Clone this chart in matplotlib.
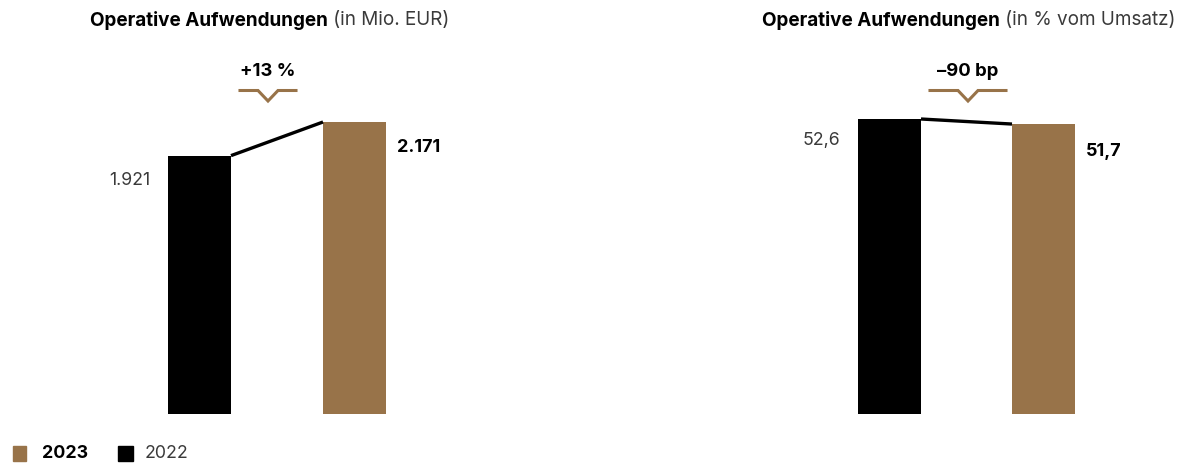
import numpy as np
import matplotlib
matplotlib.use("Agg")
import matplotlib.pyplot as plt

# ---------------- data ----------------
YEARS = ["2022", "2023"]
COST_MIO = [1921, 2171]
COST_PCT = [52.6, 51.7]
COST_MIO_LABELS = ["1.921", "2.171"]
COST_PCT_LABELS = ["52,6", "51,7"]
DELTA_LABELS = ["+13 %", "\u201390 bp"]
# --------------------------------------

BROWN = "#987349"
BLACK = "#000000"
TEXT_LIGHT = "#3a3a3a"

W, H = 1180, 463
DPI = 100
FONT = "Inter"

plt.rcParams["font.family"] = [FONT, "DejaVu Sans"]


def fx(px):
    return px / W


def fy(py):
    return 1 - py / H


def add_panel(fig, center0, center1, values, scale, labels, label_dy,
              chev_x, chev_w, delta):
    # axes covering full height, baseline at y=414 px from top
    step = center1 - center0
    left_px, right_px = center0 - 120, center1 + 120
    ax = fig.add_axes([fx(left_px), fy(414), (right_px - left_px) / W, 414 / H])
    ax.set_xlim((left_px - center0) / step, (right_px - center0) / step)
    ax.set_ylim(0, 414 / scale)
    ax.axis("off")

    bw = 63 / step
    x = np.arange(len(values))
    ax.bar(x, values, width=bw, color=[BLACK, BROWN], linewidth=0)

    # connector between bar tops
    ax.plot([x[0] + bw / 2, x[1] - bw / 2], [values[0], values[1]],
            color=BLACK, lw=2.4, solid_capstyle="butt", zorder=3)

    # value labels, offset in pixels from the bar top corners
    ax.annotate(labels[0], (x[0] - bw / 2, values[0]), xytext=(-18, -label_dy[0]),
                textcoords="offset pixels", ha="right", va="center",
                fontsize=12.8, color=TEXT_LIGHT)
    ax.annotate(labels[1], (x[1] + bw / 2, values[1]), xytext=(11, -label_dy[1]),
                textcoords="offset pixels", ha="left", va="center",
                fontsize=13, color=BLACK, fontweight="bold")

    # delta chevron
    cx = (chev_x - center0) / step
    hw = chev_w / 2 / step
    vw = 10 / step
    tr = matplotlib.transforms.blended_transform_factory(ax.transData, fig.transFigure)
    ax.plot([cx - hw, cx - vw, cx, cx + vw, cx + hw],
            [fy(90.5), fy(90.5), fy(101), fy(90.5), fy(90.5)],
            color=BROWN, lw=2.2, transform=tr, clip_on=False,
            solid_joinstyle="miter")
    ax.text(cx, fy(71), delta, transform=tr, ha="center", va="center",
            fontsize=13.3, fontweight="bold", color=BLACK)
    return ax


def two_part_title(fig, x_px, bold, light, align):
    r = fig.canvas.get_renderer()
    if align == "left":
        t1 = fig.text(fx(x_px), fy(20), bold, ha="left", va="center",
                      fontsize=13.6, fontweight="bold", color=BLACK)
        bb = t1.get_window_extent(r)
        fig.text(bb.x1 / W, fy(20), light, ha="left", va="center",
                 fontsize=13.6, color=TEXT_LIGHT)
    else:
        t2 = fig.text(fx(x_px), fy(20), light, ha="right", va="center",
                      fontsize=13.6, color=TEXT_LIGHT)
        bb = t2.get_window_extent(r)
        fig.text(bb.x0 / W, fy(20), bold, ha="right", va="center",
                 fontsize=13.6, fontweight="bold", color=BLACK)


fig = plt.figure(figsize=(W / DPI, H / DPI), dpi=DPI)
fig.patch.set_facecolor("white")

add_panel(fig, 199.5, 354.5, COST_MIO, 292 / 2171, COST_MIO_LABELS, (25, 25),
          268, 56, DELTA_LABELS[0])
add_panel(fig, 889.5, 1043.5, COST_PCT, 295 / 52.6, COST_PCT_LABELS, (22, 27),
          968, 76, DELTA_LABELS[1])

fig.canvas.draw()
two_part_title(fig, 90, "Operative Aufwendungen", " (in Mio. EUR)", "left")
two_part_title(fig, 1175, "Operative Aufwendungen", " (in % vom Umsatz)", "right")

# legend
fig.patches.append(plt.Rectangle((fx(13), fy(461)), 13 / W, 15 / H,
                                 transform=fig.transFigure, color=BROWN))
fig.text(fx(42), fy(454), YEARS[1], ha="left", va="center", fontsize=12.8,
         fontweight="bold", color=BLACK)
fig.patches.append(plt.Rectangle((fx(118), fy(461)), 15 / W, 15 / H,
                                 transform=fig.transFigure, color=BLACK))
fig.text(fx(145), fy(454), YEARS[0], ha="left", va="center", fontsize=12.8,
         color=TEXT_LIGHT)

fig.savefig("out.png", dpi=DPI)
plt.close()
